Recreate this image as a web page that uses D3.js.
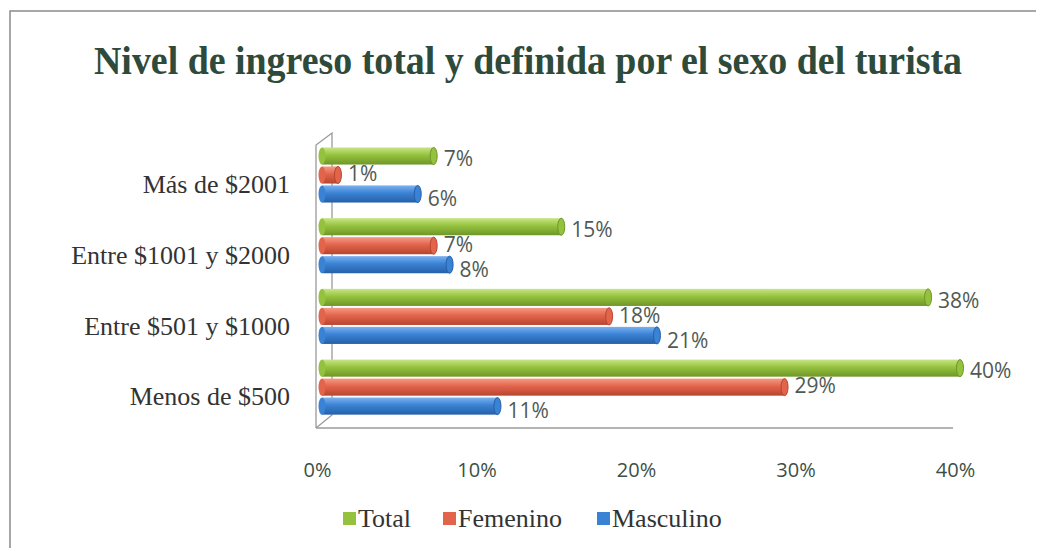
<!DOCTYPE html>
<html>
<head>
<meta charset="utf-8">
<script src="https://cdn.jsdelivr.net/npm/d3@7"></script>
<style>
  body { margin: 0; background: #fff; }
  svg { display: block; }
  .serif { font-family: "Liberation Serif", "Times New Roman", serif; }
  .sans { font-family: "Open Sans", "DejaVu Sans", sans-serif; }
</style>
</head>
<body>
<svg width="1037" height="548"></svg>
<script>
// chart data
const categories = ["Más de $2001", "Entre $1001 y $2000", "Entre $501 y $1000", "Menos de $500"];
const seriesNames = ["Total", "Femenino", "Masculino"];
const total = [7, 15, 38, 40];
const femenino = [1, 7, 18, 29];
const masculino = [6, 8, 21, 11];
const xTicks = [0, 10, 20, 30, 40];

const svg = d3.select("svg");
const width = +svg.attr("width");
const height = +svg.attr("height");

const colors = {
  Total: ["#c8e584", "#95c23e", "#6e9628"],
  Femenino: ["#f49a84", "#e2644b", "#b8452f"],
  Masculino: ["#7ab0f0", "#3a82d4", "#2660a8"]
};

// outer frame
svg.append("path")
  .attr("d", `M10,${height} V11 H1036`)
  .attr("fill", "none")
  .attr("stroke", "#8a8a8a")
  .attr("stroke-width", 1.5);

// title
svg.append("text")
  .attr("class", "serif")
  .attr("x", 528)
  .attr("y", 74)
  .attr("text-anchor", "middle")
  .attr("font-weight", "bold")
  .attr("font-size", 39)
  .attr("textLength", 868)
  .attr("lengthAdjust", "spacingAndGlyphs")
  .attr("fill", "#2e4a3a")
  .text("Nivel de ingreso total y definida por el sexo del turista");

const xScale = d3.scaleLinear().domain([0, 40]).range([322, 960]);
const yScale = d3.scaleBand().domain(categories).range([146.5, 415.6]).paddingInner(0.194).paddingOuter(0);
const ySub = d3.scaleBand().domain(seriesNames).range([0, yScale.bandwidth()]).paddingInner(0.1).paddingOuter(0.05);

// gradients for cylinder look
const defs = svg.append("defs");
seriesNames.forEach((s) => {
  const gr = defs.append("linearGradient")
    .attr("id", "g-" + s)
    .attr("x1", 0).attr("y1", 0).attr("x2", 0).attr("y2", 1);
  gr.append("stop").attr("offset", "0%").attr("stop-color", colors[s][0]);
  gr.append("stop").attr("offset", "45%").attr("stop-color", colors[s][1]);
  gr.append("stop").attr("offset", "100%").attr("stop-color", colors[s][2]);
});

// 3D wall and floor lines
const frame = svg.append("g").attr("fill", "none").attr("stroke", "#9a9a9a").attr("stroke-width", 1.3);
frame.append("path").attr("d", "M316,428 V145 L332,133 V415 L316,428");
frame.append("path").attr("d", `M316,428 H953`);

// axis tick labels
const xAxis = d3.axisBottom(xScale)
  .tickValues(xTicks)
  .tickFormat((d) => d + "%")
  .tickSize(0)
  .tickPadding(0);
const xAxisG = svg.append("g")
  .attr("transform", "translate(-5,463)")
  .call(xAxis);
xAxisG.select(".domain").remove();
xAxisG.selectAll("text")
  .attr("class", "sans")
  .attr("font-size", 20)
  .attr("fill", "#3d4f45");

// category labels
const yAxisG = svg.append("g")
  .attr("transform", "translate(290,10)")
  .call(d3.axisLeft(yScale).tickSize(0).tickPadding(0));
yAxisG.select(".domain").remove();
yAxisG.selectAll("text")
  .attr("class", "serif")
  .attr("font-size", 26)
  .attr("fill", "#333");

// bars
const rows = [];
categories.forEach((c, i) => {
  rows.push({ cat: c, series: "Total", value: total[i] });
  rows.push({ cat: c, series: "Femenino", value: femenino[i] });
  rows.push({ cat: c, series: "Masculino", value: masculino[i] });
});

const bars = svg.append("g").selectAll("g.bar")
  .data(rows)
  .enter()
  .append("g")
  .attr("class", "bar")
  .attr("transform", (d) => `translate(0,${yScale(d.cat) + ySub(d.series)})`);

const bh = ySub.bandwidth();
bars.append("rect")
  .attr("x", xScale(0))
  .attr("y", 0)
  .attr("width", (d) => xScale(d.value) - xScale(0))
  .attr("height", bh)
  .attr("fill", (d) => `url(#g-${d.series})`);
bars.append("ellipse")
  .attr("cx", (d) => xScale(d.value))
  .attr("cy", bh / 2)
  .attr("rx", 3.5)
  .attr("ry", bh / 2)
  .attr("fill", (d) => colors[d.series][1])
  .attr("stroke", (d) => colors[d.series][2])
  .attr("stroke-width", 1);
bars.append("ellipse")
  .attr("cx", xScale(0))
  .attr("cy", bh / 2)
  .attr("rx", 3.5)
  .attr("ry", bh / 2)
  .attr("fill", (d) => colors[d.series][1]);

// data labels (vertical nudge per series, like the original)
const labelDy = { Total: 3, Femenino: -1, Masculino: 5 };
bars.append("text")
  .attr("class", "sans")
  .attr("x", (d) => xScale(d.value) + 10)
  .attr("y", (d) => bh / 2 + labelDy[d.series])
  .attr("dy", "0.35em")
  .attr("font-size", 21)
  .attr("fill", "#505a55")
  .text((d) => d.value + "%");

// legend
const legendX = [343, 443, 597];
const legend = svg.append("g").selectAll("g")
  .data(seriesNames)
  .enter()
  .append("g")
  .attr("transform", (d, i) => `translate(${legendX[i]},527)`);
legend.append("rect")
  .attr("x", 0)
  .attr("y", -15)
  .attr("width", 13)
  .attr("height", 13)
  .attr("fill", (d) => colors[d][1]);
legend.append("text")
  .attr("class", "serif")
  .attr("x", 15)
  .attr("y", 0)
  .attr("font-size", 26)
  .attr("fill", "#333")
  .text((d) => d);
</script>
</body>
</html>
